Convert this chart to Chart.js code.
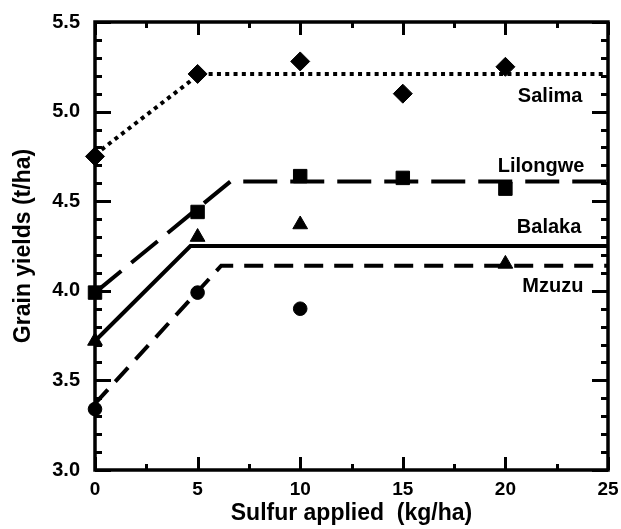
<!DOCTYPE html>
<html><head><meta charset="utf-8">
<script src="https://cdn.jsdelivr.net/npm/chart.js@4.4.0/dist/chart.umd.min.js"></script>
<style>html,body{margin:0;padding:0;background:#fff;overflow:hidden}canvas{display:block}</style>
</head><body>
<canvas id="c" width="621" height="529"></canvas>
<script>
const sulfurRates = [0, 5, 10, 15, 20];
const salimaYield = [4.75, 5.21, 5.28, 5.10, 5.25];
const lilongweYield = [3.99, 4.44, 4.64, 4.63, 4.57];
const balakaYield = [3.72, 4.30, 4.37, null, 4.15];
const mzuzuYield = [3.34, 3.99, 3.90, null, null];

// fitted linear-plateau lines (breakpoints)
const salimaFitX = [0, 5.1, 25];
const salimaFitY = [4.76, 5.21, 5.21];
const lilongweFitX = [0, 6.6, 25];
const lilongweFitY = [3.99, 4.61, 4.61];
const balakaFitX = [0, 4.65, 25];
const balakaFitY = [3.72, 4.25, 4.25];
const mzuzuFitX = [0, 6.15, 25];
const mzuzuFitY = [3.37, 4.14, 4.14];

const siteNames = ['Salima', 'Lilongwe', 'Balaka', 'Mzuzu'];
const xTickLabels = ['0', '5', '10', '15', '20', '25'];
const yTickLabels = ['3.0', '3.5', '4.0', '4.5', '5.0', '5.5'];

const FONT = 'Liberation Sans, Arial, Helvetica, sans-serif';

function pts(xs, ys) {
  const out = [];
  xs.forEach((x, i) => { if (ys[i] !== null) out.push({x: x, y: ys[i]}); });
  return out;
}

function markerSet(label, ys, style, radius) {
  return {
    label: label, data: pts(sulfurRates, ys), showLine: false,
    pointStyle: style, pointRadius: radius, pointHoverRadius: radius,
    backgroundColor: '#000', borderColor: '#000', pointBorderWidth: 1,
    clip: false, order: 0
  };
}
function fitSet(label, xs, ys, dash) {
  return {
    label: label, data: pts(xs, ys), showLine: true, pointRadius: 0,
    borderColor: '#000', borderWidth: 4, borderDash: dash, borderCapStyle: 'butt',
    fill: false, tension: 0, clip: false, order: 1
  };
}

const framePlugin = {
  id: 'frame',
  beforeDatasetsDraw(chart) {
    const {ctx, chartArea: {left, right, top, bottom}, scales: {x, y}} = chart;
    ctx.save();
    ctx.strokeStyle = '#000';
    ctx.lineCap = 'butt';
    ctx.lineWidth = 3;
    const seg = (a, b, c, d) => { ctx.beginPath(); ctx.moveTo(a, b); ctx.lineTo(c, d); ctx.stroke(); };
    for (let i = 0; i <= 10; i++) {
      const v = x.min + i * 2.5;
      const px = Math.round(x.getPixelForValue(v)) + 0.5;
      const len = (i % 2 === 0) ? 13 : 6;
      seg(px, bottom, px, bottom - len);
      seg(px, top, px, top + len);
    }
    for (let i = 0; i <= 25; i++) {
      const v = y.min + i * 0.1;
      const py = Math.round(y.getPixelForValue(v)) + 0.5;
      const len = (i % 5 === 0) ? 16 : 7;
      seg(left, py, left + len, py);
      seg(right, py, right - len, py);
    }
    ctx.lineWidth = 3.5;
    ctx.strokeRect(left, top, right - left, bottom - top);
    ctx.restore();
  },
  afterDatasetsDraw(chart, args, opts) {
    const {ctx, scales: {x, y}} = chart;
    ctx.save();
    ctx.fillStyle = '#000';
    ctx.font = 'bold 20px ' + FONT;
    ctx.textAlign = 'right';
    ctx.textBaseline = 'alphabetic';
    opts.labels.forEach((lb, i) => {
      ctx.fillText(siteNames[i], x.getPixelForValue(lb.x), y.getPixelForValue(lb.y));
    });
    ctx.restore();
  }
};

new Chart(document.getElementById('c'), {
  type: 'scatter',
  data: {
    datasets: [
      markerSet('Salima', salimaYield, 'rectRot', 9.5),
      markerSet('Lilongwe', lilongweYield, 'rect', 9.5),
      markerSet('Balaka', balakaYield, 'triangle', 8.5),
      markerSet('Mzuzu', mzuzuYield, 'circle', 6.8),
      fitSet('Salima fit', salimaFitX, salimaFitY, [4, 4.3]),
      fitSet('Lilongwe fit', lilongweFitX, lilongweFitY, [34, 13]),
      fitSet('Balaka fit', balakaFitX, balakaFitY, []),
      fitSet('Mzuzu fit', mzuzuFitX, mzuzuFitY, [19, 11])
    ]
  },
  options: {
    responsive: false,
    animation: false,
    devicePixelRatio: 1,
    layout: {padding: {left: 0, right: 13, top: 22, bottom: 0}},
    plugins: {
      legend: {display: false},
      tooltip: {enabled: false},
      frame: {labels: [
        {x: 23.75, y: 5.054},
        {x: 23.85, y: 4.663},
        {x: 23.7, y: 4.323},
        {x: 23.8, y: 3.993}
      ]}
    },
    scales: {
      x: {
        type: 'linear', min: 0, max: 25,
        afterFit(s) { s.height = 59; s.paddingLeft = 0; s.paddingRight = 0; },
        grid: {display: false, drawTicks: false},
        border: {display: false},
        ticks: {stepSize: 5, padding: 8, color: '#000', autoSkip: false, maxRotation: 0,
          font: {family: FONT, size: 19, weight: 'bold'},
          callback: (v, i) => xTickLabels[i]},
        title: {display: true, text: 'Sulfur applied  (kg/ha)', color: '#000',
          font: {family: FONT, size: 23, weight: 'bold'}, padding: {top: 0, bottom: 2}}
      },
      y: {
        type: 'linear', min: 3, max: 5.5,
        afterFit(s) { s.width = 95; s.paddingTop = 0; s.paddingBottom = 0; },
        grid: {display: false, drawTicks: false},
        border: {display: false},
        ticks: {stepSize: 0.5, padding: 15, color: '#000', autoSkip: false,
          font: {family: FONT, size: 20, weight: 'bold'},
          callback: (v, i) => yTickLabels[i]},
        title: {display: true, text: 'Grain yields (t/ha)', color: '#000',
          font: {family: FONT, size: 23, weight: 'bold'}, padding: {top: 10, bottom: 0}}
      }
    }
  },
  plugins: [framePlugin]
});
</script>
</body></html>
